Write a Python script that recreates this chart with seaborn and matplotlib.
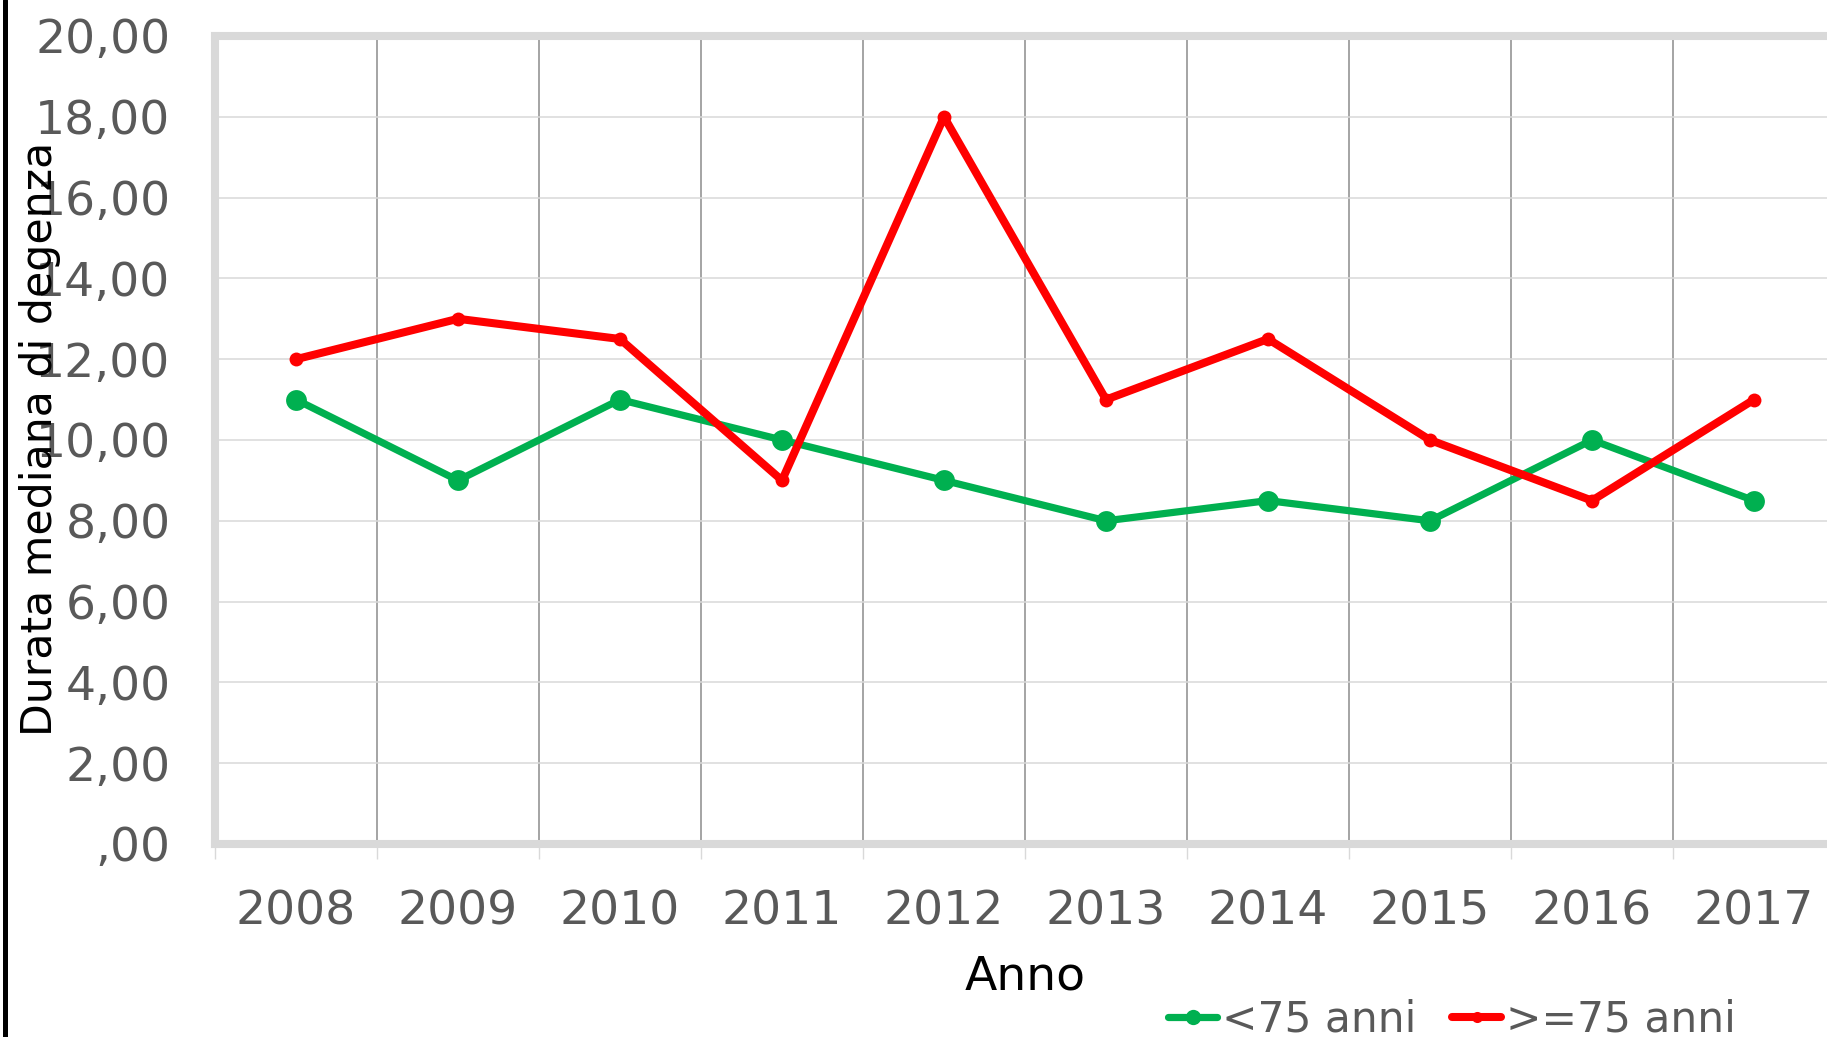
import matplotlib
matplotlib.use("Agg")
import matplotlib.pyplot as plt
from matplotlib.lines import Line2D
from matplotlib.ticker import FixedLocator, FuncFormatter
import seaborn as sns
import pandas as pd

sns.set_theme(style="white")
plt.rcParams['font.family'] = ['DejaVu Sans']

# --- data ---
anni = ['2008', '2009', '2010', '2011', '2012', '2013', '2014', '2015', '2016', '2017']
meno_75 = [11, 9, 11, 10, 9, 8, 8.5, 8, 10, 8.5]
over_75 = [12, 13, 12.5, 9, 18, 11, 12.5, 10, 8.5, 11]

df = pd.DataFrame({'Anno': anni, 'meno75': meno_75, 'over75': over_75})

W, H = 1827, 1037
fig = plt.figure(figsize=(W / 100, H / 100), dpi=100)
ax = fig.add_axes([215 / W, 1 - 844 / H, 1620 / W, 808 / H])

sns.lineplot(data=df, x='Anno', y='meno75', ax=ax, color='#00b050', linewidth=5.2,
             marker='o', markersize=15, markeredgewidth=0, sort=False, label='<75 anni')
sns.lineplot(data=df, x='Anno', y='over75', ax=ax, color='#ff0000', linewidth=5.8,
             marker='o', markersize=10, markeredgewidth=0, sort=False, label='>=75 anni')

ax.set_xlim(-0.5, len(anni) - 0.5)
ax.set_ylim(0, 20)
ax.set_yticks(range(0, 21, 2))
ax.yaxis.set_major_formatter(FuncFormatter(
    lambda v, p: ',00' if v == 0 else f"{v:.2f}".replace('.', ',')))

# category boundaries as minor ticks -> vertical grid + small ticks below
ax.xaxis.set_minor_locator(FixedLocator([i - 0.5 for i in range(len(anni) + 1)]))
ax.grid(True, which='minor', axis='x', color='#8c8c8c', linewidth=1.1)
ax.grid(True, which='major', axis='y', color='#d9d9d9', linewidth=1.1)
ax.grid(False, which='major', axis='x')
ax.set_axisbelow(True)

ax.tick_params(axis='x', which='minor', length=11, width=1, color='#d9d9d9',
               direction='out', bottom=True)
ax.tick_params(axis='x', which='major', length=0, pad=33, labelsize=34,
               labelcolor='#595959')
ax.tick_params(axis='y', which='major', length=0, pad=32, labelsize=34,
               labelcolor='#595959')

for s in ax.spines.values():
    s.set_color('#d9d9d9')
    s.set_linewidth(5.8)

ax.set_xlabel('Anno', fontsize=34, color='black', labelpad=14)
ax.set_ylabel('Durata mediana di degenza', fontsize=30.7, color='black')
ax.yaxis.label.set_va('center')
ax.yaxis.set_label_coords(-0.108, 0.502)

leg = ax.legend(loc='center left', bbox_to_anchor=(1147 / W, 1 - 1020 / H),
                bbox_transform=fig.transFigure, ncol=2, frameon=False,
                borderpad=0, handlelength=1.15, handletextpad=0.12,
                columnspacing=0.85, prop={'size': 30.5})
for t in leg.get_texts():
    t.set_color('#595959')
for h, ms in zip(leg.legend_handles, [11, 8]):
    h.set_markersize(ms)

# dark strip on the left edge of the screenshot
fig.add_artist(Line2D([4.5 / W, 4.5 / W], [0, 1], transform=fig.transFigure,
                      color='black', linewidth=3.6))

fig.savefig('out.png', dpi=100)
